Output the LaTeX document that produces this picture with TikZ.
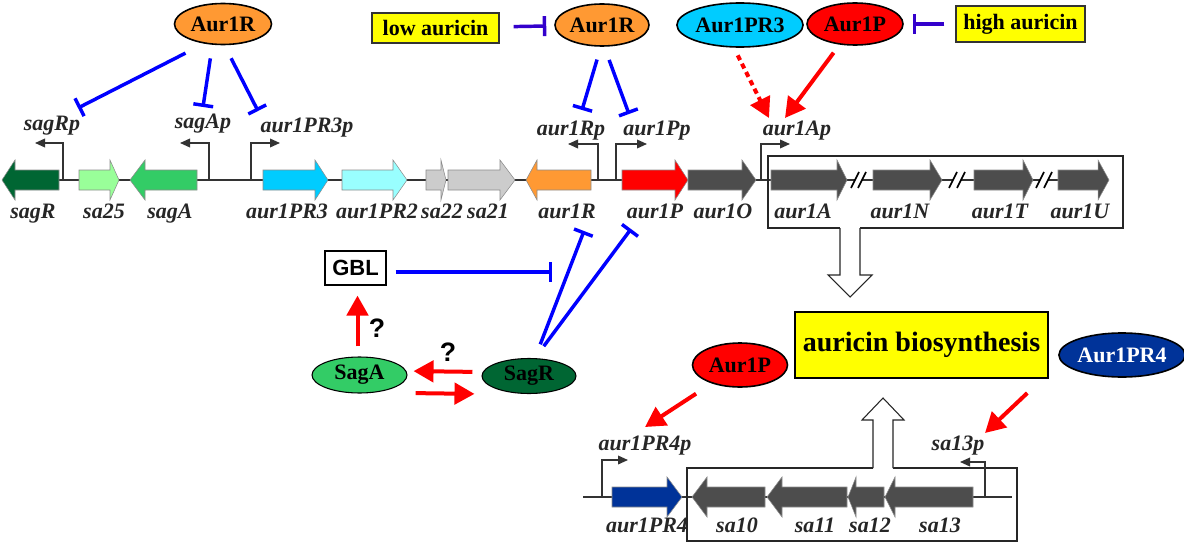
\documentclass[tikz,border=0pt]{standalone}
\usepackage{fontspec}
\setmainfont{Liberation Serif}
\setsansfont{Liberation Sans}
\usetikzlibrary{shapes.geometric,arrows.meta,calc}
\definecolor{orng}{HTML}{FF9933}
\definecolor{cyn}{HTML}{00CCFF}
\definecolor{ltcyn}{HTML}{99FFFF}
\definecolor{dkgrn}{HTML}{006633}
\definecolor{ltgrn}{HTML}{99FF99}
\definecolor{mdgrn}{HTML}{33CC66}
\definecolor{lgry}{HTML}{CCCCCC}
\definecolor{dgry}{HTML}{4D4D4D}
\definecolor{dk}{HTML}{333333}
\definecolor{nvy}{HTML}{003399}
\definecolor{ylw}{HTML}{FFFF00}
\definecolor{blu}{HTML}{0000FF}
\definecolor{ind}{HTML}{3300CC}
\definecolor{rd}{HTML}{FF0000}
\newcommand\drawgene[4]{%
  \filldraw[genestyle,fill=#4] (#1,\gy-10) -- (#2,\gy-10) -- (#2,\gy-20) -- (#3,\gy) -- (#2,\gy+20) -- (#2,\gy+10) -- (#1,\gy+10) -- cycle;}
\newcommand\brk[1]{\draw[line width=1.2pt,black] (#1-4,\gy+8) -- (#1+4,\gy-8);}
\begin{document}
\begin{tikzpicture}[x=0.75pt,y=-0.75pt,
  glab/.style={font=\fontsize{16.5}{18}\selectfont\bfseries\itshape, anchor=base, inner sep=0pt, text=black!85},
  prot/.style={ellipse, draw=black, line width=1.2pt, inner sep=0pt, font=\fontsize{16.5}{18}\selectfont\bfseries},
  sig/.style={draw=black!80, line width=0.9pt, fill=ylw, inner sep=0pt, font=\fontsize{16.5}{18}\selectfont\bfseries},
  inh/.style={draw=blu, line width=2.6pt, -{Bar[width=15pt]}},
  inh2/.style={inh, draw=ind},
  act/.style={draw=rd, line width=3pt, -{Triangle[length=15pt,width=16pt]}},
  prom/.style={draw=dk, line width=1.1pt, -{Triangle[length=7.5pt,width=6.5pt]}},
  bb/.style={draw=dk, line width=1.3pt},
  genestyle/.style={draw=black!45, line width=0.4pt},
  qm/.style={font=\sffamily\bfseries\fontsize{20}{22}\selectfont, inner sep=0pt},
  boxline/.style={draw=black!85, line width=0.8pt, fill=white},
  ]
\useasboundingbox (0,0) rectangle (1184,542);

% ---------------- top gene row ----------------
\def\gy{180}
\draw[bb] (15,\gy) -- (855,\gy);
\draw[bb] (862,\gy) -- (953,\gy);
\draw[bb] (961,\gy) -- (1040,\gy);
\draw[bb] (1048,\gy) -- (1062,\gy);
\brk{855}\brk{862}\brk{953}\brk{961}\brk{1040}\brk{1048}

% box around aur1A..aur1U with open arrow
\draw[draw=black!85, line width=0.8pt] (840,228) -- (768,228) -- (768,156) -- (1123,156) -- (1123,228) -- (860,228);
\draw[boxline] (840,228) -- (840,275) -- (828,275) -- (850,297) -- (872,275) -- (860,275) -- (860,228);

\drawgene{59}{15}{2}{dkgrn}
\drawgene{79}{110}{119}{ltgrn}
\drawgene{197}{145}{130}{mdgrn}
\drawgene{263}{315}{328}{cyn}
\drawgene{342}{393}{407}{ltcyn}
\drawgene{426}{441}{446}{lgry}
\drawgene{448}{500}{515}{lgry}
\drawgene{591}{537}{526}{orng}
\drawgene{622}{675}{688}{rd}
\drawgene{688}{742}{756}{dgry}
\drawgene{771}{837}{847}{dgry}
\drawgene{873}{930}{942}{dgry}
\drawgene{974}{1023}{1033}{dgry}
\drawgene{1058}{1098}{1109}{dgry}

% promoters
\draw[prom] (63,\gy) -- (63,143) -- (35,143);
\draw[prom] (209,\gy) -- (209,143) -- (180,143);
\draw[prom] (251,\gy) -- (251,143) -- (280,143);
\draw[prom] (598,\gy) -- (598,144) -- (568,144);
\draw[prom] (616,\gy) -- (616,144) -- (647,144);
\draw[prom] (761,\gy) -- (761,144) -- (790,144);

% gene labels
\node[glab] (lsagR) at (33,218) {sagR};
\node[glab] (lsa25) at (104,218) {sa25};
\node[glab] (lsagA) at (170,218) {sagA};
\node[glab] (lPR3) at (287,218) {aur1PR3};
\node[glab] (lPR2) at (377,218) {aur1PR2};
\node[glab] (lsa22) at (442,218) {sa22};
\node[glab] (lsa21) at (488,218) {sa21};
\node[glab] (laur1R) at (567,218) {aur1R};
\node[glab] (laur1P) at (655,218) {aur1P};
\node[glab] (laur1O) at (723,218) {aur1O};
\node[glab] (laur1A) at (803,218) {aur1A};
\node[glab] (laur1N) at (900,218) {aur1N};
\node[glab] (laur1T) at (1000,218) {aur1T};
\node[glab] (laur1U) at (1080,218) {aur1U};

% promoter labels
\node[glab] (psagR) at (52,130) {sagRp};
\node[glab] (psagA) at (203,128) {sagAp};
\node[glab] (pPR3) at (307,132) {aur1PR3p};
\node[glab] (pR) at (571,135) {aur1Rp};
\node[glab] (pP) at (657,135) {aur1Pp};
\node[glab] (pA) at (797,135) {aur1Ap};

% ---------------- top regulators ----------------
\node[prot, fill=orng, minimum width=72.75pt, minimum height=30.75pt] (R1) at (223,24) {Aur1R};
\node[prot, fill=orng, minimum width=70.5pt, minimum height=31.5pt] (R2) at (602,25) {Aur1R};
\node[prot, fill=cyn, minimum width=90pt, minimum height=33pt] (PR3) at (740,25) {Aur1PR3};
\node[prot, fill=rd, minimum width=72pt, minimum height=31.5pt] (P1) at (855,24) {Aur1P};
\node[sig, minimum width=95.25pt, minimum height=22.5pt] (low) at (435.5,28) {low auricin};
\node[sig, minimum width=96.75pt, minimum height=27pt] (high) at (1020.5,24) {high auricin};

\coordinate (tSagRp) at (78,108);
\coordinate (tSagAp) at (203,107);
\coordinate (tPR3p) at (258,111);
\coordinate (tRp) at (582,110);
\coordinate (tPp) at (629,114);
\coordinate (tAp1) at (769,118);
\coordinate (tAp2) at (785,118);

\draw[inh, shorten <=15.6pt] (R1.226) -- (tSagRp);
\draw[inh, shorten <=10.3pt] (R1.243) -- (tSagAp);
\draw[inh, shorten <=10.9pt] (R1.274) -- (tPR3p);
\draw[inh, shorten <=10pt] (R2.267) -- (tRp);
\draw[inh, shorten <=10.5pt] (R2.276) -- (tPp);
\draw[inh2, shorten <=10.5pt, shorten >=6pt] (low) -- (R2);
\draw[inh2, shorten <=8.25pt, shorten >=6.75pt] (high) -- (P1);
\draw[act, dash pattern=on 4pt off 3pt, shorten <=6.4pt] (PR3.255) -- (tAp1);
\draw[act, shorten <=7.5pt] (P1) -- (tAp2);

% ---------------- middle left ----------------
\node[draw=black, line width=0.9pt, minimum width=45.75pt, minimum height=25.5pt, font=\sffamily\bfseries\fontsize{16.5}{18}\selectfont, inner sep=0pt] (GBL) at (355.5,268) {GBL};
\node[prot, fill=mdgrn, line width=0.8pt, minimum width=71.25pt, minimum height=27pt] (SagA) at (359.5,375) {SagA};
\node[prot, fill=dkgrn, line width=0.8pt, minimum width=70.5pt, minimum height=26.25pt] (SagR) at (529,376) {SagR};
\node[qm] (q1) at (377,328) {?};
\node[qm] (q2) at (448,352) {?};

\coordinate (tRg) at (584,231);
\coordinate (tPg) at (631,229);
\coordinate (tGBL) at (552,272);

\draw[inh, shorten <=11pt] ([xshift=4.5pt]SagR.north) -- (tRg);
\draw[inh, shorten <=11pt] ([xshift=4.5pt]SagR.north) -- (tPg);
\draw[inh, shorten <=6.75pt] (GBL.east |- tGBL) -- (tGBL);
\draw[act, shorten <=7.5pt, shorten >=7.5pt] ([xshift=-1.5pt]SagA.north) -- ([xshift=-1.5pt]SagA.north |- GBL.south);
\draw[act, shorten <=6.75pt, shorten >=4.5pt] ([yshift=3pt]SagR.west) -- ([yshift=3pt]SagA.east);
\draw[act, shorten <=6pt, shorten >=5.25pt] ([yshift=-13.5pt]SagA.east) -- ([yshift=-13.5pt]SagR.west);

% ---------------- auricin biosynthesis ----------------
\node[sig, draw=black, line width=1.5pt, minimum width=189.75pt, minimum height=49.5pt, font=\fontsize{21}{24}\selectfont\bfseries] (bio) at (921.5,345) {auricin biosynthesis};
\node[prot, fill=rd, minimum width=71.25pt, minimum height=33pt] (P2) at (740,365) {Aur1P};
\node[prot, fill=nvy, text=white, minimum width=90pt, minimum height=33pt] (PR4) at (1122,355) {Aur1PR4};

% ---------------- bottom gene row ----------------
\def\gy{497}
\draw[bb] (583,\gy) -- (1012,\gy);
\draw[draw=black!85, line width=0.8pt] (873,468) -- (687,468) -- (687,541) -- (1017,541) -- (1017,468) -- (893,468);
\draw[boxline] (873,468) -- (873,420) -- (862,420) -- (883,398) -- (904,420) -- (893,420) -- (893,468);

\drawgene{612}{667}{682}{nvy}
\drawgene{765}{707}{692}{dgry}
\drawgene{847}{782}{767}{dgry}
\drawgene{884}{856}{848}{dgry}
\drawgene{973}{895}{885}{dgry}

\draw[prom] (602,\gy) -- (602,460) -- (628,460);
\draw[prom] (985,\gy) -- (985,462) -- (960,462);

\node[glab] (pPR4) at (645,450) {aur1PR4p};
\node[glab] (p13) at (958,450) {sa13p};
\node[glab] (lPR4) at (647,532) {aur1PR4};
\node[glab] (lsa10) at (737,532) {sa10};
\node[glab] (lsa11) at (815,532) {sa11};
\node[glab] (lsa12) at (870,532) {sa12};
\node[glab] (lsa13) at (940,532) {sa13};

\coordinate (tPR4p) at (645,427);
\coordinate (t13p) at (985,433);
\draw[act, shorten <=14pt] (P2) -- (tPR4p);
\draw[act, shorten <=34.5pt] (PR4.186) -- (t13p);
\end{tikzpicture}
\end{document}
